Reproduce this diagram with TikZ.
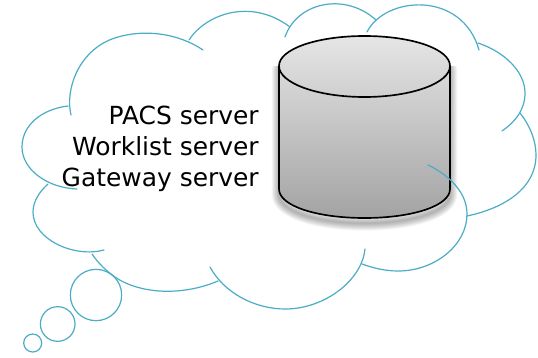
\documentclass[tikz,border=0pt]{standalone}
\usepackage{fontspec}
\setmainfont{DejaVu Sans}
\definecolor{cloudline}{HTML}{4BACC6}
\pgfdeclareverticalshading{cylshade}{100bp}{color(0bp)=(black!36); color(25bp)=(black!36); color(75bp)=(black!10); color(100bp)=(black!10)}
\tikzset{
  x=0.75pt,y=-0.75pt,
  cloudarc/.style={draw=cloudline,line width=0.9pt,line cap=round},
  bubble/.style={draw=cloudline,line width=0.9pt},
  cylline/.style={draw=black,line width=1.25pt,line join=round},
  label/.style={anchor=base east,font=\fontsize{18.7pt}{22pt}\selectfont,inner sep=0pt,text=black}
}
\def\cylbody{(279,66) -- (279,189) .. controls (279,206) and (317,218) .. (364.5,218) .. controls (412,218) and (450,206) .. (450,189) -- (450,66) .. controls (450,49) and (412,36) .. (364.5,36) .. controls (317,36) and (279,49) .. (279,66) -- cycle}
\begin{document}
\begin{tikzpicture}
\useasboundingbox (0,0) rectangle (538,357);
% soft shadow
\begin{scope}
\clip (250,66) rectangle (480,245);
\begin{scope}[yshift=-4pt]
\foreach \w in {11,10,9,8,7,6,5,4,3,2,1}{
  \draw[black,opacity=0.03,line width=\w pt,line join=round] \cylbody;
}
\end{scope}
\end{scope}
% cylinder
\path[shading=cylshade] \cylbody;
\draw[cylline] \cylbody;
\draw[cylline] (279,66) .. controls (279,83) and (317,97) .. (364.5,97) .. controls (412,97) and (450,83) .. (450,66);
% labels
\node[label] (pacs) at (259,124) {PACS server};
\node[label] (work) at (259,155) {Worklist server};
\node[label] (gate) at (259,186) {Gateway server};
% cloud outline
\draw[cloudarc] (71,115) .. controls (65,90) and (78,52) .. (112,39) .. controls (142,28) and (178,33) .. (203,50);
\draw[cloudarc] (189,40) .. controls (205,15) and (250,-3) .. (290,27);
\draw[cloudarc] (285,37) .. controls (297,2) and (345,-8) .. (376,20);
\draw[cloudarc] (367,32) .. controls (385,-4) and (462,-10) .. (479,50);
\draw[cloudarc] (478,43) .. controls (505,52) and (525,72) .. (525,93) .. controls (525,110) and (515,122) .. (502,131);
\draw[cloudarc] (520,113) .. controls (531,127) and (536,142) .. (536,155) .. controls (536,188) and (505,208) .. (467,216);
\draw[cloudarc] (428,165) .. controls (445,173) and (467,190) .. (467,214) .. controls (467,245) and (435,271) .. (398,271) .. controls (385,271) and (373,268) .. (362,264);
\draw[cloudarc] (365,249) .. controls (362,280) and (325,309) .. (285,309) .. controls (255,309) and (224,293) .. (210,267);
\draw[cloudarc] (218,281) .. controls (185,295) and (145,295) .. (118,279) .. controls (107,272) and (98,263) .. (92,254);
\draw[cloudarc] (104,250) .. controls (75,258) and (33,240) .. (33,212) .. controls (33,202) and (39,192) .. (48,184);
\draw[cloudarc] (77,189) .. controls (48,188) and (22,170) .. (22,147) .. controls (22,125) and (42,109) .. (68,106);
% thought bubbles
\node[bubble,circle,minimum size=38.5pt,inner sep=0pt] (b1) at (96,295) {};
\node[bubble,circle,minimum size=26pt,inner sep=0pt] (b2) at (57.7,324) {};
\node[bubble,circle,minimum size=13.5pt,inner sep=0pt] (b3) at (32.7,343) {};
\end{tikzpicture}
\end{document}
